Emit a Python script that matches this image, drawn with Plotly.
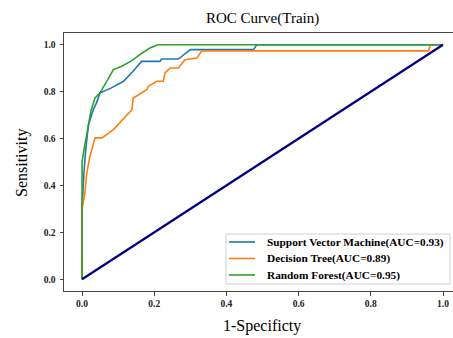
import plotly.graph_objects as go

# Data
svm_fpr = [0, 0, 0.005, 0.01, 0.018, 0.031, 0.04, 0.05, 0.08, 0.115, 0.14, 0.16, 0.165, 0.216, 0.22, 0.267, 0.3, 0.475, 0.484, 1.0]
svm_tpr = [0, 0.3, 0.45, 0.55, 0.66, 0.723, 0.752, 0.795, 0.815, 0.844, 0.885, 0.922, 0.929, 0.929, 0.939, 0.939, 0.979, 0.979, 1.0, 1.0]

dt_fpr = [0, 0, 0.004, 0.008, 0.013, 0.022, 0.036, 0.055, 0.087, 0.138, 0.142, 0.179, 0.184, 0.207, 0.225, 0.23, 0.244, 0.267, 0.285, 0.318, 0.332, 0.96, 0.965, 1.0]
dt_tpr = [0, 0.30, 0.333, 0.369, 0.454, 0.525, 0.603, 0.603, 0.638, 0.723, 0.773, 0.808, 0.823, 0.844, 0.844, 0.88, 0.901, 0.901, 0.936, 0.943, 0.974, 0.974, 1.0, 1.0]

rf_fpr = [0, 0, 0.005, 0.013, 0.025, 0.036, 0.05, 0.087, 0.11, 0.138, 0.16, 0.188, 0.21, 1.0]
rf_tpr = [0, 0.5, 0.55, 0.617, 0.72, 0.773, 0.795, 0.894, 0.908, 0.932, 0.958, 0.986, 1.0, 1.0]

diag = [0, 1]

tick_vals = [0, 0.2, 0.4, 0.6, 0.8, 1.0]
tick_text = ["0.0", "0.2", "0.4", "0.6", "0.8", "1.0"]

names = ["Support Vector Machine(AUC=0.93)", "Decision Tree(AUC=0.89)", "Random Forest(AUC=0.95)"]
colors = ["#1f77b4", "#ff7f0e", "#2ca02c"]

serif = "Liberation Serif"
tickfont = dict(family=serif, size=9.5, color="#222", weight="bold")

fig = go.Figure()
for fx, ty, nm, c in zip([svm_fpr, dt_fpr, rf_fpr], [svm_tpr, dt_tpr, rf_tpr], names, colors):
    fig.add_trace(go.Scatter(x=fx, y=ty, mode="lines", name=nm, showlegend=False,
                             line=dict(color=c, width=1.6)))
fig.add_trace(go.Scatter(x=diag, y=diag, mode="lines", showlegend=False,
                         line=dict(color="#000080", width=2.2)))

# plot domain: x 64..453 px, y 33..291 px
def px(xp):
    return (xp - 64) / 389.0

def py(yp):
    return (291 - yp) / 258.0

fig.update_layout(
    width=453, height=338,
    margin=dict(l=64, r=0, t=33, b=47),
    plot_bgcolor="white", paper_bgcolor="white",
    showlegend=False,
    xaxis=dict(range=[-0.05, 1.0277], showgrid=False, zeroline=False,
               showline=True, linecolor="#444", linewidth=1, mirror=True,
               ticks="outside", ticklen=3.5, tickcolor="#444",
               tickvals=tick_vals, ticktext=tick_text, tickfont=tickfont),
    yaxis=dict(range=[-0.05, 1.05], showgrid=False, zeroline=False,
               showline=True, linecolor="#444", linewidth=1, mirror=False,
               ticks="outside", ticklen=3.5, tickcolor="#444", ticklabelstandoff=2,
               tickvals=tick_vals, ticktext=tick_text, tickfont=tickfont),
)

# Legend box (matplotlib-style) drawn in paper coordinates
x0, x1, y0, y1, r = px(226), px(450), py(284), py(234), 0.008
fig.add_shape(type="rect", xref="paper", yref="paper", x0=x0, x1=x1, y0=y0, y1=y1,
              line=dict(color="#d0d0d0", width=1), fillcolor="rgba(255,255,255,0.9)", layer="above")
row_y = [242, 258.5, 275]
for nm, c, ry in zip(names, colors, row_y):
    fig.add_shape(type="line", xref="paper", yref="paper", x0=px(229), x1=px(255),
                  y0=py(ry), y1=py(ry), line=dict(color=c, width=1.6), layer="above")
    fig.add_annotation(text=nm, x=px(265), y=py(ry), xref="paper", yref="paper",
                       showarrow=False, xanchor="left", yanchor="middle",
                       font=dict(family=serif, size=11.3, color="black", weight="bold"))

fig.add_annotation(text="ROC Curve(Train)", x=px(262), y=py(19), xref="paper", yref="paper",
                   showarrow=False, font=dict(family=serif, size=15, color="black"),
                   xanchor="center", yanchor="middle")
fig.add_annotation(text="1-Specificty", x=px(262), y=py(326), xref="paper", yref="paper",
                   showarrow=False, font=dict(family=serif, size=16, color="black"),
                   xanchor="center", yanchor="middle")
fig.add_annotation(text="Sensitivity", x=px(22), y=py(163), xref="paper", yref="paper",
                   showarrow=False, textangle=-90, font=dict(family=serif, size=16, color="black"),
                   xanchor="center", yanchor="middle")

fig.write_html("out.html")
